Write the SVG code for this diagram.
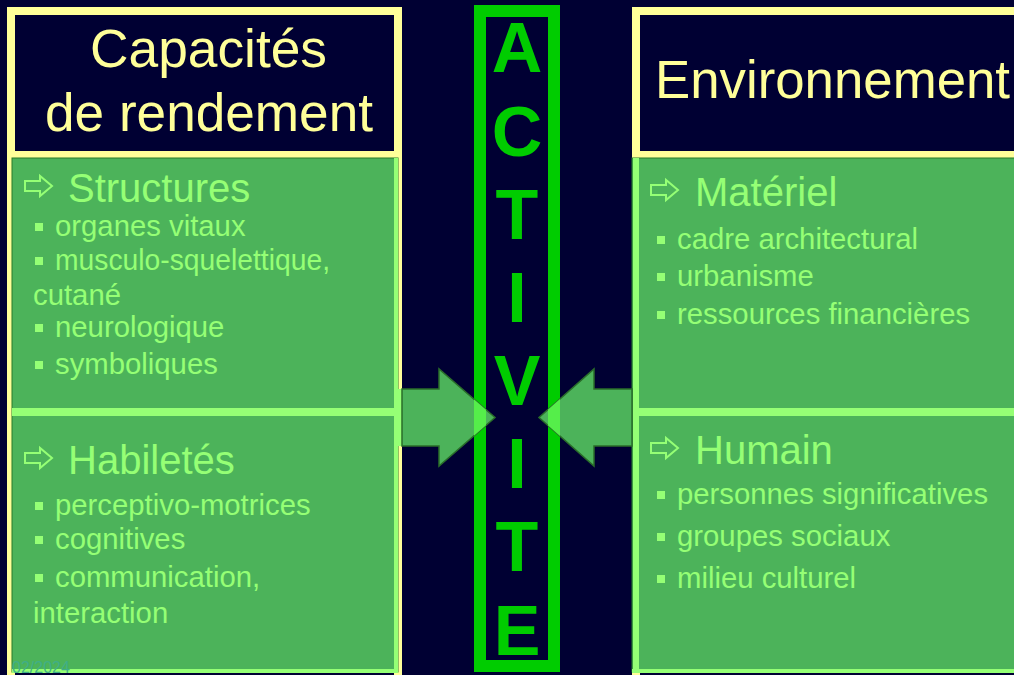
<svg xmlns="http://www.w3.org/2000/svg" width="1014" height="675" viewBox="0 0 1014 675">
<style>
.hdr{font-family:"Liberation Sans",Arial,sans-serif;font-size:53px;fill:#FFFF99}
.h2{font-family:"Liberation Sans",Arial,sans-serif;font-size:40px;fill:#95FF75}
.b{font-family:"Liberation Sans",Arial,sans-serif;font-size:29.3px;fill:#95FF75}
.bul{fill:#95FF75}
.harr{fill:none;stroke:#95FF75;stroke-width:2}
.frame{fill:#000033;stroke:#FFFF99;stroke-width:8}
.cell{fill:#4CB35A;stroke:#2A7A2A;stroke-width:1}
.lt{fill:#95FF75}
.act{font-family:"Liberation Sans",Arial,sans-serif;font-size:70px;font-weight:bold;fill:#00CC00;text-anchor:middle}
.arrow{fill:#4CB35A;stroke:#2A6E2A;stroke-width:1.5}
</style>
<defs>
<clipPath id="clipL"><polygon points="402,389 439,389 439,369 495,417.5 439,466 439,446 402,446"/></clipPath>
<clipPath id="clipR"><polygon points="632,389 594,389 594,369 539,417.5 594,466 594,446 632,446"/></clipPath>
</defs>
<rect x="0" y="0" width="1014" height="675" fill="#000033"/>

<g id="capacites">
<rect class="frame" x="11" y="11" width="387" height="700"/>
<rect x="7" y="151" width="395" height="7" fill="#FFFF99"/>
<text class="hdr" x="90" y="67" textLength="237" lengthAdjust="spacingAndGlyphs">Capacités</text>
<text class="hdr" x="45" y="131" textLength="328" lengthAdjust="spacingAndGlyphs">de rendement</text>
<rect class="cell" x="12" y="158" width="386" height="514"/>
<rect class="lt" x="394" y="158" width="4" height="515"/>
<rect class="lt" x="12" y="408" width="382" height="8"/>
<rect class="lt" x="12" y="669" width="386" height="4"/>
</g>

<g id="structures">
<polygon class="harr" points="25,181 40,181 40,176 52,186 40,196 40,191 25,191"/>
<text class="h2" x="68" y="202">Structures</text>
<rect class="bul" x="35" y="223" width="8" height="8"/>
<text class="b" x="55" y="236">organes vitaux</text>
<rect class="bul" x="35" y="257" width="8" height="8"/>
<text class="b" x="55" y="270" textLength="275" lengthAdjust="spacingAndGlyphs">musculo-squelettique,</text>
<text class="b" x="33" y="305">cutané</text>
<rect class="bul" x="35" y="324" width="8" height="8"/>
<text class="b" x="55" y="337">neurologique</text>
<rect class="bul" x="35" y="361" width="8" height="8"/>
<text class="b" x="55" y="374">symboliques</text>
</g>

<g id="habiletes">
<polygon class="harr" points="25,453 40,453 40,448 52,458 40,468 40,463 25,463"/>
<text class="h2" x="68" y="474">Habiletés</text>
<rect class="bul" x="35" y="502" width="8" height="8"/>
<text class="b" x="55" y="515">perceptivo-motrices</text>
<rect class="bul" x="35" y="536" width="8" height="8"/>
<text class="b" x="55" y="549">cognitives</text>
<rect class="bul" x="35" y="574" width="8" height="8"/>
<text class="b" x="55" y="587">communication,</text>
<text class="b" x="33" y="623">interaction</text>
<text x="12" y="673" font-family="Liberation Sans,Arial,sans-serif" font-size="16" fill="#3FAE88">02/2024</text>
</g>

<g id="environnement">
<rect class="frame" x="636" y="11" width="400" height="700"/>
<rect x="632" y="151" width="390" height="7" fill="#FFFF99"/>
<text class="hdr" x="655" y="98" textLength="355" lengthAdjust="spacingAndGlyphs">Environnement</text>
<rect class="cell" x="632" y="158" width="400" height="514"/>
<rect class="lt" x="633" y="158" width="6" height="515"/>
<rect class="lt" x="639" y="408" width="380" height="8"/>
<rect class="lt" x="632" y="669" width="390" height="4"/>
</g>

<g id="materiel">
<polygon class="harr" points="651,185 666,185 666,180 678,190 666,200 666,195 651,195"/>
<text class="h2" x="695" y="206">Matériel</text>
<rect class="bul" x="657" y="236" width="8" height="8"/>
<text class="b" x="677" y="249">cadre architectural</text>
<rect class="bul" x="657" y="273" width="8" height="8"/>
<text class="b" x="677" y="286">urbanisme</text>
<rect class="bul" x="657" y="311" width="8" height="8"/>
<text class="b" x="677" y="324">ressources financières</text>
</g>

<g id="humain">
<polygon class="harr" points="651,443 666,443 666,438 678,448 666,458 666,453 651,453"/>
<text class="h2" x="695" y="464">Humain</text>
<rect class="bul" x="657" y="491" width="8" height="8"/>
<text class="b" x="677" y="504">personnes significatives</text>
<rect class="bul" x="657" y="533" width="8" height="8"/>
<text class="b" x="677" y="546">groupes sociaux</text>
<rect class="bul" x="657" y="575" width="8" height="8"/>
<text class="b" x="677" y="588">milieu culturel</text>
</g>

<g id="activite">
<rect x="480" y="11" width="74" height="655" fill="none" stroke="#00CC00" stroke-width="12"/>
<text class="act" x="517" y="72">A</text>
<text class="act" x="517" y="156">C</text>
<text class="act" x="517" y="239">T</text>
<text class="act" x="517" y="322">I</text>
<text class="act" x="517" y="405">V</text>
<text class="act" x="517" y="488">I</text>
<text class="act" x="517" y="571">T</text>
<text class="act" x="517" y="655">E</text>
</g>

<g id="connectors">
<rect class="lt" x="398" y="389" width="4" height="57"/>
<polygon class="arrow" points="402,389 439,389 439,369 495,417.5 439,466 439,446 402,446"/>
<rect x="474" y="360" width="12" height="110" fill="#55EE4A" clip-path="url(#clipL)"/>
<polygon class="arrow" points="632,389 594,389 594,369 539,417.5 594,466 594,446 632,446"/>
<rect x="548" y="360" width="12" height="110" fill="#55EE4A" clip-path="url(#clipR)"/>
</g>
</svg>
